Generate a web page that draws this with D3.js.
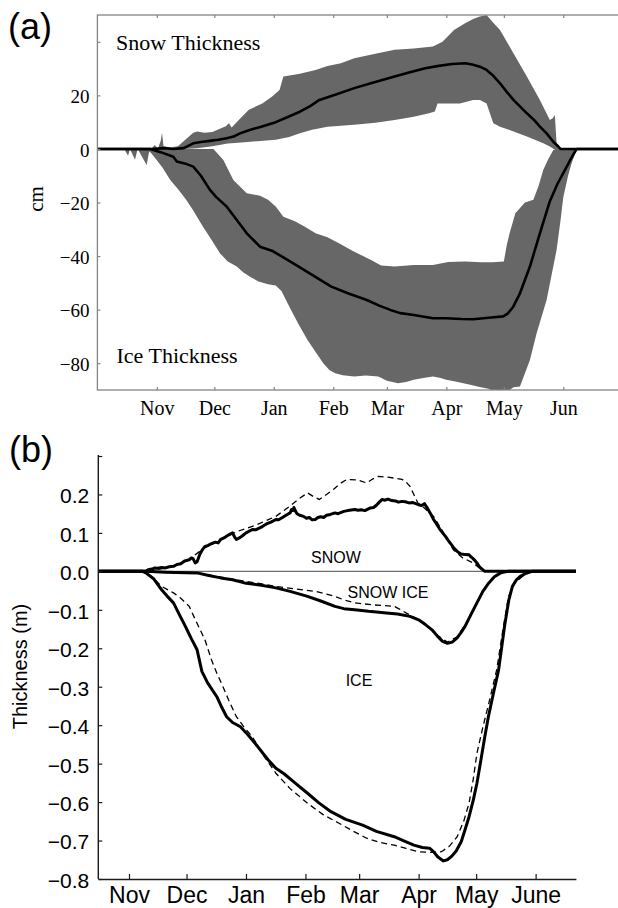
<!DOCTYPE html>
<html>
<head>
<meta charset="utf-8">
<script src="https://cdn.jsdelivr.net/npm/d3@7"></script>
<style>
  html, body { margin: 0; padding: 0; background: #fff; }
  svg { display: block; }
</style>
</head>
<body>
<svg id="chart" width="618" height="908"></svg>
<script>
// Day numbers count from 1 October (day 0) of the ice season.
const seasonStart = Date.UTC(2000, 9, 1);
const monthTickDays = [31, 61, 92, 123, 151, 182, 212, 243];
const monthLabelsA = ["Nov", "Dec", "Jan", "Feb", "Mar", "Apr", "May", "Jun"];
const monthLabelsB = ["Nov", "Dec", "Jan", "Feb", "Mar", "Apr", "May", "June"];
const cmTicks = [-80, -60, -40, -20, 0, 20, 40];
const mTicks = [-0.8, -0.7, -0.6, -0.5, -0.4, -0.3, -0.2, -0.1, 0.0, 0.1, 0.2, 0.3];

// (a) snow thickness, cm: mean and spread envelope  [day, value]
const snowMeanA = [[0,0],[28.5,0],[35,0.3],[39.6,0],[45,0.3],[50,2.1],[54,2.6],[58.7,3.0],[63,3.4],[67.4,4.0],[71,4.6],[74.4,5.8],[79,7],[85,8.2],[93,10],[99,11.8],[105.6,13.9],[111,16],[115.8,18.3],[124,20.2],[134,22.7],[144,24.8],[155,27.0],[163,28.6],[171,30.1],[178,31.0],[185,31.7],[192,32],[196,31.4],[199.5,30.7],[203,29.5],[206.5,27.3],[210,24.5],[213.5,21.3],[217,18.3],[220.5,15.8],[224,13.3],[227.5,11.0],[230.8,8.3],[234.3,5.8],[237.8,2.7],[240.4,0.9],[241.5,0],[273,0]];
const snowUpperA = [[0,0],[28,0],[30,1.5],[31.5,0],[33,3],[33.7,6],[34.5,1],[38,0.5],[42,1],[46,3.5],[50,6],[52,6.5],[56,6],[60,6.3],[64.5,7.7],[67,8.5],[68.6,9.6],[70,8],[74,11],[79,14.6],[86,17],[91,19.5],[95,22],[97,27],[105,28],[113.8,29.5],[120,31],[127,32],[134,33.9],[145,35.5],[155,37],[165,37.5],[175,38.2],[180,40],[186,44.4],[192,47],[196,48.5],[199.5,49.4],[203,50],[206,47.5],[210,44.4],[217,35.7],[224,27],[230.8,18.3],[236,10.8],[237.5,11.5],[238.6,12.7],[239.5,2.2],[241.3,0],[273,0]];
const snowLowerA = [[0,0],[45,0],[52,0.3],[60,1],[68,2],[76.8,2.5],[85,3],[93,3.4],[100,4.5],[105.6,5.9],[112,7.2],[120,8.3],[134,9],[145,9.8],[155,10.8],[165,12],[173,13.3],[176,14],[177.4,17],[189,17],[196,18.3],[199.5,18.3],[203,17],[206.5,9.6],[210,8.3],[215,7.1],[224,4.6],[232.6,2.1],[236,0.9],[238,0],[273,0]];

// (a) ice thickness, cm (drawn downward)
const iceMeanA = [[0,0],[27.6,0],[33,-1.2],[39.6,-2.9],[41.4,-4.7],[46,-5.5],[50,-6.6],[54,-10],[58.7,-15.3],[62,-18],[67.4,-21.5],[72.7,-26.5],[77.9,-31.5],[84.8,-36.5],[91,-38],[97,-40.5],[103.5,-43.3],[112,-47],[122,-51.4],[131,-54],[140.5,-56.4],[147,-58.5],[152.8,-60.1],[158,-61.3],[165,-62],[175,-63.2],[181.6,-63.2],[190,-63.5],[196,-63.6],[204,-63],[211.7,-62.5],[214,-61.5],[216.9,-58.9],[220.4,-53.9],[225.6,-43.9],[230.8,-31.5],[236,-19.5],[240,-13],[244.8,-6.6],[247.5,-3],[250,0],[273,0]];
const iceUpperA = [[0,0],[60.5,0],[65.7,-4.1],[70.9,-11.6],[77.9,-16.5],[84.8,-17.5],[89,-19],[93,-21.5],[97,-25.3],[103,-27],[108,-29],[113.8,-31.5],[120,-33],[126,-35.2],[133,-38],[142.5,-41.4],[148,-43.5],[155,-43.9],[165,-43.3],[175,-43.3],[183,-42.2],[191.7,-42],[200,-42.3],[206,-42.3],[212,-42],[213.5,-36],[215,-31.5],[218,-24],[223,-20],[227.4,-19],[230,-14],[232.6,-7.8],[235,-4],[237.8,-0.4],[239,0],[273,0]];
const iceLowerA = [[0,0],[14,0],[16,-2.5],[17,0],[19.6,-4],[21,0],[25.7,-6],[27,-1],[28,-1.5],[30.9,-4.1],[34,-7],[38,-11.6],[42,-15],[46.3,-19],[50,-23],[55,-29],[60,-34.5],[64,-39],[68,-42],[72.7,-43.9],[76,-46],[79.6,-47.7],[84,-49.5],[89,-50.5],[93,-51],[96,-53],[101,-60.1],[105,-65.5],[109.6,-71.3],[114,-76],[117.8,-80],[121,-82.5],[124,-83.7],[128,-84.5],[134,-85],[140,-84.6],[146.5,-85],[151,-86.5],[156.8,-87.5],[161,-87],[165,-86.2],[170,-85.5],[175,-85],[179,-85.5],[182,-86.2],[188,-87],[195,-88.1],[200,-89],[204,-89.5],[208,-91],[213,-91],[217,-89],[220.4,-88.7],[225.6,-78.8],[229.1,-68.8],[234.3,-56.4],[239.5,-37.7],[241.5,-27],[243,-18],[245.5,-10],[247.5,-5],[250,0],[273,0]];

// (b) thickness, m: observed (solid) and modelled (dashed)
const snowObsB = [[15,0],[39.8,0],[41,0.004],[43,0.006],[44.5,0.009],[46,0.008],[48,0.01],[50,0.009],[52,0.012],[54.2,0.013],[56,0.018],[58,0.02],[60,0.027],[62.4,0.03],[63.5,0.035],[64.4,0.033],[65.5,0.022],[66.5,0.025],[68,0.045],[69.5,0.058],[70.6,0.065],[72,0.067],[74,0.072],[76,0.076],[77.5,0.074],[78.8,0.083],[80.5,0.087],[82,0.092],[83.5,0.096],[85,0.1],[86,0.09],[87,0.083],[88.5,0.087],[90,0.092],[92,0.1],[95.3,0.109],[97,0.108],[100,0.115],[101.5,0.12],[103,0.124],[105,0.128],[107.6,0.135],[109,0.134],[111,0.14],[113.5,0.148],[115,0.152],[115.8,0.161],[116.5,0.158],[117,0.166],[118,0.155],[118.6,0.15],[120,0.146],[122,0.143],[123.5,0.138],[125,0.14],[126.5,0.134],[128.1,0.135],[129.5,0.14],[131,0.142],[132.5,0.14],[134,0.146],[136,0.148],[138.4,0.152],[140,0.15],[143,0.156],[145,0.158],[148.7,0.161],[150.5,0.159],[152,0.16],[154,0.158],[156.9,0.165],[158.5,0.166],[160,0.172],[161.5,0.18],[163,0.187],[164.5,0.185],[166,0.188],[168,0.184],[170,0.183],[171.5,0.18],[173.3,0.182],[175,0.181],[177,0.178],[179,0.179],[181.6,0.174],[183.5,0.171],[185,0.176],[186.5,0.165],[188,0.152],[189.8,0.135],[191.5,0.122],[193,0.11],[194.5,0.1],[196,0.091],[197.5,0.08],[199,0.07],[200.5,0.06],[202.1,0.052],[204,0.045],[206,0.044],[208.3,0.043],[209.2,0.038],[210,0.035],[211,0.03],[212.4,0.022],[213.5,0.013],[214.5,0.008],[216.5,0],[264,0]];
const snowModelB = [[15,0],[39.8,0],[46,0.005],[55,0.015],[62,0.03],[70,0.06],[80,0.085],[87,0.103],[97,0.12],[107.6,0.143],[115,0.17],[120,0.19],[124.1,0.204],[127,0.195],[130.2,0.187],[134,0.2],[138,0.215],[141,0.228],[144.6,0.239],[150,0.238],[154.9,0.23],[158,0.24],[161,0.247],[166,0.245],[170,0.242],[173.3,0.239],[175,0.235],[177.5,0.221],[181.6,0.178],[185,0.165],[189.8,0.143],[195,0.1],[200.1,0.056],[205,0.035],[210.4,0.022],[214,0.008],[216.5,0],[264,0]];
const snowIceObsB = [[15,0],[39.8,0],[50,-0.002],[66.5,-0.004],[72,-0.01],[78.8,-0.017],[85,-0.022],[91.2,-0.03],[100,-0.036],[107.6,-0.043],[115,-0.052],[124.1,-0.065],[131,-0.077],[138.4,-0.091],[143,-0.097],[148.7,-0.1],[156,-0.104],[165.2,-0.108],[171,-0.111],[177.5,-0.117],[182,-0.126],[185.7,-0.139],[189,-0.152],[191.9,-0.169],[194.5,-0.182],[197,-0.187],[199.5,-0.184],[202.1,-0.173],[204,-0.16],[206.2,-0.143],[209,-0.115],[212.4,-0.082],[215.5,-0.052],[218.6,-0.03],[221.5,-0.014],[224.8,-0.004],[228.6,0],[264,0]];
const snowIceModelB = [[15,0],[39.8,0],[66.5,-0.004],[78,-0.014],[87,-0.022],[97,-0.03],[107.6,-0.039],[118,-0.046],[128.1,-0.052],[133,-0.058],[138.4,-0.065],[143,-0.074],[148.7,-0.082],[158,-0.087],[169.3,-0.091],[172,-0.098],[175.4,-0.108],[180,-0.12],[185.7,-0.139],[191.9,-0.167],[197,-0.184],[202.1,-0.17],[206.2,-0.14],[212.4,-0.08],[218.6,-0.028],[224.8,-0.003],[228.6,0],[264,0]];
const iceObsB = [[15,0],[38,0],[39.8,-0.004],[44,-0.02],[48,-0.048],[51,-0.065],[54.2,-0.082],[57,-0.11],[60.4,-0.143],[63.5,-0.175],[66.5,-0.204],[69,-0.26],[72,-0.29],[76.8,-0.326],[79,-0.35],[81.9,-0.378],[85,-0.393],[89.1,-0.404],[93,-0.425],[98,-0.455],[103.5,-0.49],[107.6,-0.512],[112,-0.527],[118,-0.552],[124.1,-0.577],[130,-0.602],[136.3,-0.625],[144,-0.645],[152.8,-0.66],[160,-0.676],[169.3,-0.69],[174,-0.7],[179.5,-0.712],[184,-0.718],[187.7,-0.72],[190,-0.73],[191.9,-0.742],[194.9,-0.753],[197,-0.75],[199,-0.742],[201.5,-0.728],[204.2,-0.703],[206,-0.675],[208.3,-0.638],[210.5,-0.595],[212.4,-0.551],[214.5,-0.49],[216.5,-0.43],[218.5,-0.375],[220.6,-0.326],[223.7,-0.256],[226.8,-0.143],[229,-0.075],[230.9,-0.039],[233,-0.022],[235,-0.013],[238,-0.005],[241.1,0],[264,0]];
const iceModelB = [[15,0],[38,0],[42,-0.01],[48,-0.039],[54.2,-0.056],[58,-0.07],[62.4,-0.091],[66,-0.13],[70.6,-0.178],[74,-0.23],[76.8,-0.265],[80,-0.3],[83,-0.335],[87,-0.378],[91,-0.405],[95.3,-0.43],[101,-0.478],[107.6,-0.525],[115,-0.565],[124.1,-0.603],[132,-0.632],[140.5,-0.655],[148,-0.676],[154.9,-0.694],[162,-0.705],[169.3,-0.712],[175,-0.72],[181.6,-0.729],[188,-0.731],[193.9,-0.729],[198,-0.715],[202.1,-0.69],[205.5,-0.65],[208.3,-0.603],[210.5,-0.54],[212.4,-0.473],[215.5,-0.405],[218.6,-0.343],[222.7,-0.256],[226,-0.15],[228.9,-0.065],[232,-0.03],[235,-0.018],[237.1,-0.009],[240,-0.003],[243.2,0],[264,0]];

const dayDate = d => new Date(seasonStart + d * 864e5);
const svg = d3.select("#chart");
const SERIF = "'Liberation Serif', 'Times New Roman', serif";
const SANS = "'Liberation Sans', Arial, Helvetica, sans-serif";

/* ---------------- panel (a) ---------------- */
const xA = d3.scaleUtc().domain([dayDate(0), dayDate(273)]).range([97.4, 620.8]);
const yA = d3.scaleLinear().domain([-90, 50]).range([390, 15]);

svg.append("clipPath").attr("id", "clipA")
  .append("rect").attr("x", xA.range()[0]).attr("y", yA.range()[1])
  .attr("width", xA.range()[1] - xA.range()[0]).attr("height", yA.range()[0] - yA.range()[1]);

const lineA = d3.line().x(p => xA(dayDate(p[0]))).y(p => yA(p[1]));
const band = (upper, lower) => lineA(upper.concat(lower.slice().reverse())) + "Z";

const gA = svg.append("g").attr("clip-path", "url(#clipA)");
gA.append("path").attr("d", band(snowUpperA, snowLowerA)).attr("fill", "#676767");
gA.append("path").attr("d", band(iceUpperA, iceLowerA)).attr("fill", "#676767");
[snowMeanA, iceMeanA].forEach(s =>
  gA.append("path").attr("d", lineA(s)).attr("fill", "none")
    .attr("stroke", "#000").attr("stroke-width", 2.6).attr("stroke-linejoin", "round"));

// frame with inward ticks
const frameColor = "#858585";
svg.append("rect")
  .attr("x", xA.range()[0]).attr("y", yA.range()[1])
  .attr("width", xA.range()[1] - xA.range()[0]).attr("height", yA.range()[0] - yA.range()[1])
  .attr("fill", "none").attr("stroke", frameColor).attr("stroke-width", 1.3);

function styleAxis(g, color, font, size) {
  g.select(".domain").remove();
  g.selectAll(".tick line").attr("stroke", color).attr("stroke-width", 1.2);
  g.selectAll("text").attr("fill", "#000").attr("font-family", font).attr("font-size", size);
}

svg.append("g").attr("transform", `translate(${xA.range()[0]},0)`)
  .call(d3.axisLeft(yA).tickValues(cmTicks).tickSizeInner(-3).tickSizeOuter(0).tickPadding(8)
    .tickFormat(v => v === 40 ? "" : d3.format("d")(v)))
  .call(g => { styleAxis(g, frameColor, SERIF, 19); g.selectAll("text").attr("dy", "0.38em"); });

svg.append("g").attr("transform", `translate(0,${yA.range()[0]})`)
  .call(d3.axisBottom(xA).tickValues(monthTickDays.map(dayDate)).tickSizeInner(-3).tickSizeOuter(0).tickPadding(11)
    .tickFormat((d, i) => monthLabelsA[i]))
  .call(g => styleAxis(g, frameColor, SERIF, 20));

svg.append("g").attr("transform", `translate(0,${yA.range()[1]})`)
  .call(d3.axisTop(xA).tickValues(monthTickDays.map(dayDate)).tickSizeInner(-3).tickSizeOuter(0).tickFormat(""))
  .call(g => styleAxis(g, frameColor, SERIF, 20));

svg.append("text").attr("x", 116).attr("y", 50)
  .attr("font-family", SERIF).attr("font-size", 22).text("Snow Thickness");
svg.append("text").attr("x", 116.5).attr("y", 363)
  .attr("font-family", SERIF).attr("font-size", 22).text("Ice Thickness");
svg.append("text").attr("transform", "translate(43,199) rotate(-90)")
  .attr("text-anchor", "middle").attr("font-family", SERIF).attr("font-size", 21).text("cm");
svg.append("text").attr("x", 8).attr("y", 39)
  .attr("font-family", SANS).attr("font-size", 36).text("(a)");

/* ---------------- panel (b) ---------------- */
const xB = d3.scaleUtc().domain([dayDate(15), dayDate(264)]).range([98.3, 575.9]);
const yB = d3.scaleLinear().domain([-0.8, 0.3]).range([879, 456]);
const lineB = d3.line().x(p => xB(dayDate(p[0]))).y(p => yB(p[1]));

// zero reference
svg.append("line")
  .attr("x1", xB.range()[0]).attr("x2", xB.range()[1])
  .attr("y1", yB(0)).attr("y2", yB(0))
  .attr("stroke", "#6e6e6e").attr("stroke-width", 1.1);

const gB = svg.append("g");
[snowModelB, snowIceModelB, iceModelB].forEach(s =>
  gB.append("path").attr("d", lineB(s)).attr("fill", "none")
    .attr("stroke", "#000").attr("stroke-width", 1.3).attr("stroke-dasharray", "6,4"));
[snowObsB, snowIceObsB, iceObsB].forEach(s =>
  gB.append("path").attr("d", lineB(s)).attr("fill", "none")
    .attr("stroke", "#000").attr("stroke-width", 3).attr("stroke-linejoin", "round"));

const axisColorB = "#1a1a1a";
svg.append("g").attr("transform", `translate(${xB.range()[0]},0)`)
  .call(d3.axisLeft(yB).tickValues(mTicks).tickSizeInner(-4).tickSizeOuter(0).tickPadding(9)
    .tickFormat(v => Math.abs(v - 0.3) < 1e-9 ? "" : d3.format(".1f")(v)))
  .call(g => {
    g.select(".domain").attr("stroke", axisColorB).attr("stroke-width", 1.4)
      .attr("d", `M0,${yB.range()[1] - 1}V${yB.range()[0]}`);
    g.selectAll(".tick line").attr("stroke", axisColorB).attr("stroke-width", 1.2);
    g.selectAll("text").attr("fill", "#000").attr("font-family", SANS).attr("font-size", 21).attr("dy", "0.4em");
  });

svg.append("g").attr("transform", `translate(0,${yB.range()[0]})`)
  .call(d3.axisBottom(xB).tickValues(monthTickDays.map(dayDate)).tickSizeInner(-5).tickSizeOuter(0).tickPadding(8)
    .tickFormat((d, i) => monthLabelsB[i]))
  .call(g => {
    g.select(".domain").attr("stroke", axisColorB).attr("stroke-width", 1.4);
    g.selectAll(".tick line").attr("stroke", axisColorB).attr("stroke-width", 1.2);
    g.selectAll("text").attr("fill", "#000").attr("font-family", SANS).attr("font-size", 23);
  });

svg.append("text").attr("x", 336).attr("y", 562.5).attr("text-anchor", "middle")
  .attr("font-family", SANS).attr("font-size", 16).text("SNOW");
svg.append("text").attr("x", 388).attr("y", 597.5).attr("text-anchor", "middle")
  .attr("font-family", SANS).attr("font-size", 16).text("SNOW ICE");
svg.append("text").attr("x", 359).attr("y", 686).attr("text-anchor", "middle")
  .attr("font-family", SANS).attr("font-size", 16).text("ICE");
svg.append("text").attr("transform", "translate(27,666.5) rotate(-90)")
  .attr("text-anchor", "middle").attr("font-family", SANS).attr("font-size", 20).text("Thickness (m)");
svg.append("text").attr("x", 9).attr("y", 462)
  .attr("font-family", SANS).attr("font-size", 36).text("(b)");
</script>
</body>
</html>
